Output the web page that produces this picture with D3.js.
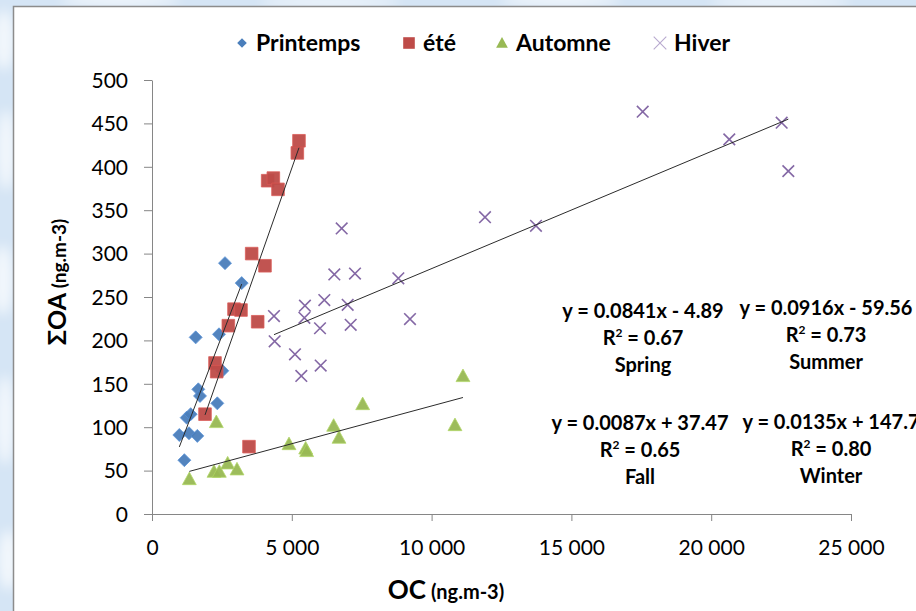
<!DOCTYPE html>
<html>
<head>
<meta charset="utf-8">
<script src="https://cdn.jsdelivr.net/npm/d3@7"></script>
<style>
  html, body { margin: 0; padding: 0; background: #fff; }
  svg { display: block; }
  text { font-family: Lato, "Open Sans", sans-serif; }
</style>
</head>
<body>
<svg id="chart" width="916" height="611"></svg>
<script>
// ---- data: OC (ng.m-3) vs ΣOA (ng.m-3) per season ----
const seasons = ["Printemps", "été", "Automne", "Hiver"];
const trendNames = ["Spring", "Summer", "Fall", "Winter"];

const springOC = [977, 1157, 1240, 1323, 1383, 1563, 1621, 1656, 1717, 2336, 2396, 2515, 2611, 3208];
const springOA = [91, 62, 111, 93, 115, 203.5, 90, 143.6, 136, 127.5, 207, 165, 289, 266];

const summerOC = [1896, 2253, 2313, 2730, 2933, 3183, 3469, 3565, 3780, 4041, 4137, 4340, 4506, 5198, 5257];
const summerOA = [115, 174, 164, 217, 236, 235, 77.6, 300, 221.5, 286, 384, 387, 374, 416, 430];

const fallOC = [1335, 2217, 2301, 2408, 2706, 3040, 4900, 5496, 5531, 6497, 6688, 7535, 10836, 11122];
const fallOA = [40.3, 48.8, 106, 48.8, 58.4, 51.5, 80.6, 75.6, 72.6, 101.8, 88, 126.7, 102.5, 159];

const winterOC = [4363, 4387, 5114, 5340, 5450, 5470, 6009, 6033, 6163, 6521, 6784, 6998, 7106, 7260, 8810, 9227, 11910, 13733, 17550, 20647, 22520, 22758];
const winterOA = [228, 199, 184, 159, 226, 240, 214, 171, 246.5, 276, 329, 241, 218, 277, 271.5, 224.6, 342, 332, 463.5, 431.6, 450.8, 395];

// linear fits
const slopes = [0.0841, 0.0916, 0.0087, 0.0135];
const intercepts = [-4.89, -59.56, 37.47, 147.7];
const r2 = ["0.67", "0.73", "0.65", "0.80"];

const xTicks = [0, 5000, 10000, 15000, 20000, 25000];
const yTicks = [0, 50, 100, 150, 200, 250, 300, 350, 400, 450, 500];

// ---- layout ----
const svg = d3.select("#chart");
const W = 916, H = 611;
const plot = { left: 152, right: 851, top: 80, bottom: 514 };

const x = d3.scaleLinear().domain([0, 25000]).range([plot.left, plot.right]);
const y = d3.scaleLinear().domain([0, 500]).range([plot.bottom, plot.top]);

const colors = ["#4a7ebb", "#be4b48", "#98b954", "#7d60a0"];

// soft blue page backdrop
const defs = svg.append("defs");
defs.append("filter").attr("id", "soft").attr("x", "-50%").attr("y", "-50%").attr("width", "200%").attr("height", "200%")
  .append("feGaussianBlur").attr("stdDeviation", 6);
svg.append("rect").attr("width", W).attr("height", H).attr("fill", "#d5e5f5");
const blobs = svg.append("g").attr("filter", "url(#soft)");
[[4, 40, 10, 30], [6, 150, 9, 40], [3, 280, 10, 35], [5, 420, 9, 45], [8, 560, 10, 30],
 [120, 0, 60, 6], [330, 2, 70, 5], [560, 0, 60, 6], [780, 2, 70, 5]].forEach(b => {
  blobs.append("ellipse").attr("cx", b[0]).attr("cy", b[1]).attr("rx", b[2]).attr("ry", b[3])
    .attr("fill", "#ffffff").attr("opacity", 0.7);
});

// chart panel
svg.append("rect").attr("x", 13.5).attr("y", 6.5).attr("width", W).attr("height", H)
  .attr("fill", "#ffffff").attr("stroke", "#8c8c8c").attr("stroke-width", 1.5);

// ---- axes ----
const fmt = d3.formatLocale({ decimal: ",", thousands: " ", grouping: [3], currency: ["", ""] }).format(",d");
const axisColor = "#868686";

const gx = svg.append("g").attr("transform", `translate(0,${plot.bottom})`)
  .call(d3.axisBottom(x).tickValues(xTicks).tickSize(7).tickSizeOuter(0).tickFormat(fmt));
gx.select(".domain").attr("stroke", axisColor);
gx.selectAll(".tick line").attr("stroke", axisColor);
gx.selectAll(".tick text").attr("fill", "#000").attr("font-size", 21).attr("dy", 0).attr("y", 41)
  .style("font-family", "Lato, sans-serif");

const gy = svg.append("g").attr("transform", `translate(${plot.left},0)`)
  .call(d3.axisLeft(y).tickValues(yTicks).tickSize(8).tickSizeOuter(0));
gy.select(".domain").attr("stroke", axisColor);
gy.selectAll(".tick line").attr("stroke", axisColor);
gy.selectAll(".tick text").attr("fill", "#000").attr("font-size", 21).attr("x", -24).attr("dy", "0.35em")
  .style("font-family", "Lato, sans-serif");

// ---- markers ----
function markerPath(kind, s) {
  if (kind === 0) return `M0,${-s}L${s},0L0,${s}L${-s},0Z`;
  if (kind === 1) return `M${-s},${-s}H${s}V${s}H${-s}Z`;
  if (kind === 2) return `M0,${-s * 1.05}L${s * 1.05},${s * 0.85}L${-s * 1.05},${s * 0.85}Z`;
  return `M${-s},${-s}L${s},${s}M${-s},${s}L${s},${-s}`;
}

const seriesOC = [springOC, summerOC, fallOC, winterOC];
const seriesOA = [springOA, summerOA, fallOA, winterOA];
const markerSize = [6.5, 6.3, 6.6, 5.8];

seriesOC.forEach((oc, i) => {
  const pts = oc.map((v, j) => ({ oc: v, oa: seriesOA[i][j] }));
  const g = svg.append("g");
  const path = markerPath(i, markerSize[i]);
  g.selectAll("path").data(pts).join("path")
    .attr("transform", d => `translate(${x(d.oc)},${y(d.oa)})`)
    .attr("d", path)
    .attr("fill", i === 3 ? "none" : colors[i])
    .attr("stroke", i === 3 ? colors[i] : d3.color(colors[i]).brighter(0.4))
    .attr("stroke-width", i === 3 ? 1.6 : 0.8)
    .attr("opacity", 0.95);
});

// least-squares lines, drawn over each season's range
const line = d3.line().x(d => x(d[0])).y(d => y(d[1]));
seriesOC.forEach((oc, i) => {
  const [lo, hi] = d3.extent(oc);
  svg.append("path")
    .attr("d", line([[lo, slopes[i] * lo + intercepts[i]], [hi, slopes[i] * hi + intercepts[i]]]))
    .attr("fill", "none").attr("stroke", "#2b2b2b").attr("stroke-width", 1);
});

// ---- fit annotations ----
const labelPos = [[643, 318], [826, 315], [640, 430], [831, 429]];
labelPos.forEach((p, i) => {
  const b = intercepts[i];
  const bTxt = (b < 0 ? "- " : "+ ") + String(Math.abs(b));
  const g = svg.append("g").attr("font-weight", 700).attr("font-size", 20).attr("text-anchor", "middle");
  g.append("text").attr("x", p[0]).attr("y", p[1]).text(`y = ${slopes[i].toFixed(4)}x ${bTxt}`);
  const r = g.append("text").attr("x", p[0]).attr("y", p[1] + 27);
  r.append("tspan").text("R");
  r.append("tspan").attr("font-size", 12).attr("dy", -8).text("2");
  r.append("tspan").attr("dy", 8).text(` = ${r2[i]}`);
  g.append("text").attr("x", p[0]).attr("y", p[1] + 54).text(trendNames[i]);
});

// ---- legend ----
const legendX = [242, 409, 502, 660];
const legendY = 43;
const lg = svg.append("g");
seasons.forEach((name, i) => {
  const s = [4.8, 5.8, 5.6, 6.3][i];
  lg.append("path").attr("transform", `translate(${legendX[i]},${legendY})`)
    .attr("d", markerPath(i, s))
    .attr("fill", i === 3 ? "none" : colors[i])
    .attr("stroke", i === 3 ? "#b8a9cf" : "none")
    .attr("stroke-width", 1.1);
  lg.append("text").attr("x", legendX[i] + 14).attr("y", legendY).attr("dy", "0.36em")
    .attr("font-size", 23).attr("font-weight", 700).text(name);
});

// ---- axis titles ----
const xt = svg.append("text").attr("x", 446).attr("y", 599).attr("text-anchor", "middle").attr("font-weight", 700);
xt.append("tspan").attr("font-size", 26).text("OC");
xt.append("tspan").attr("font-size", 20).text(" (ng.m-3)");

const yt = svg.append("text").attr("transform", "translate(66,282) rotate(-90)")
  .attr("text-anchor", "middle").attr("font-weight", 700);
yt.append("tspan").attr("font-size", 25).text("ΣOA");
yt.append("tspan").attr("font-size", 19).text(" (ng.m-3)");
</script>
</body>
</html>
